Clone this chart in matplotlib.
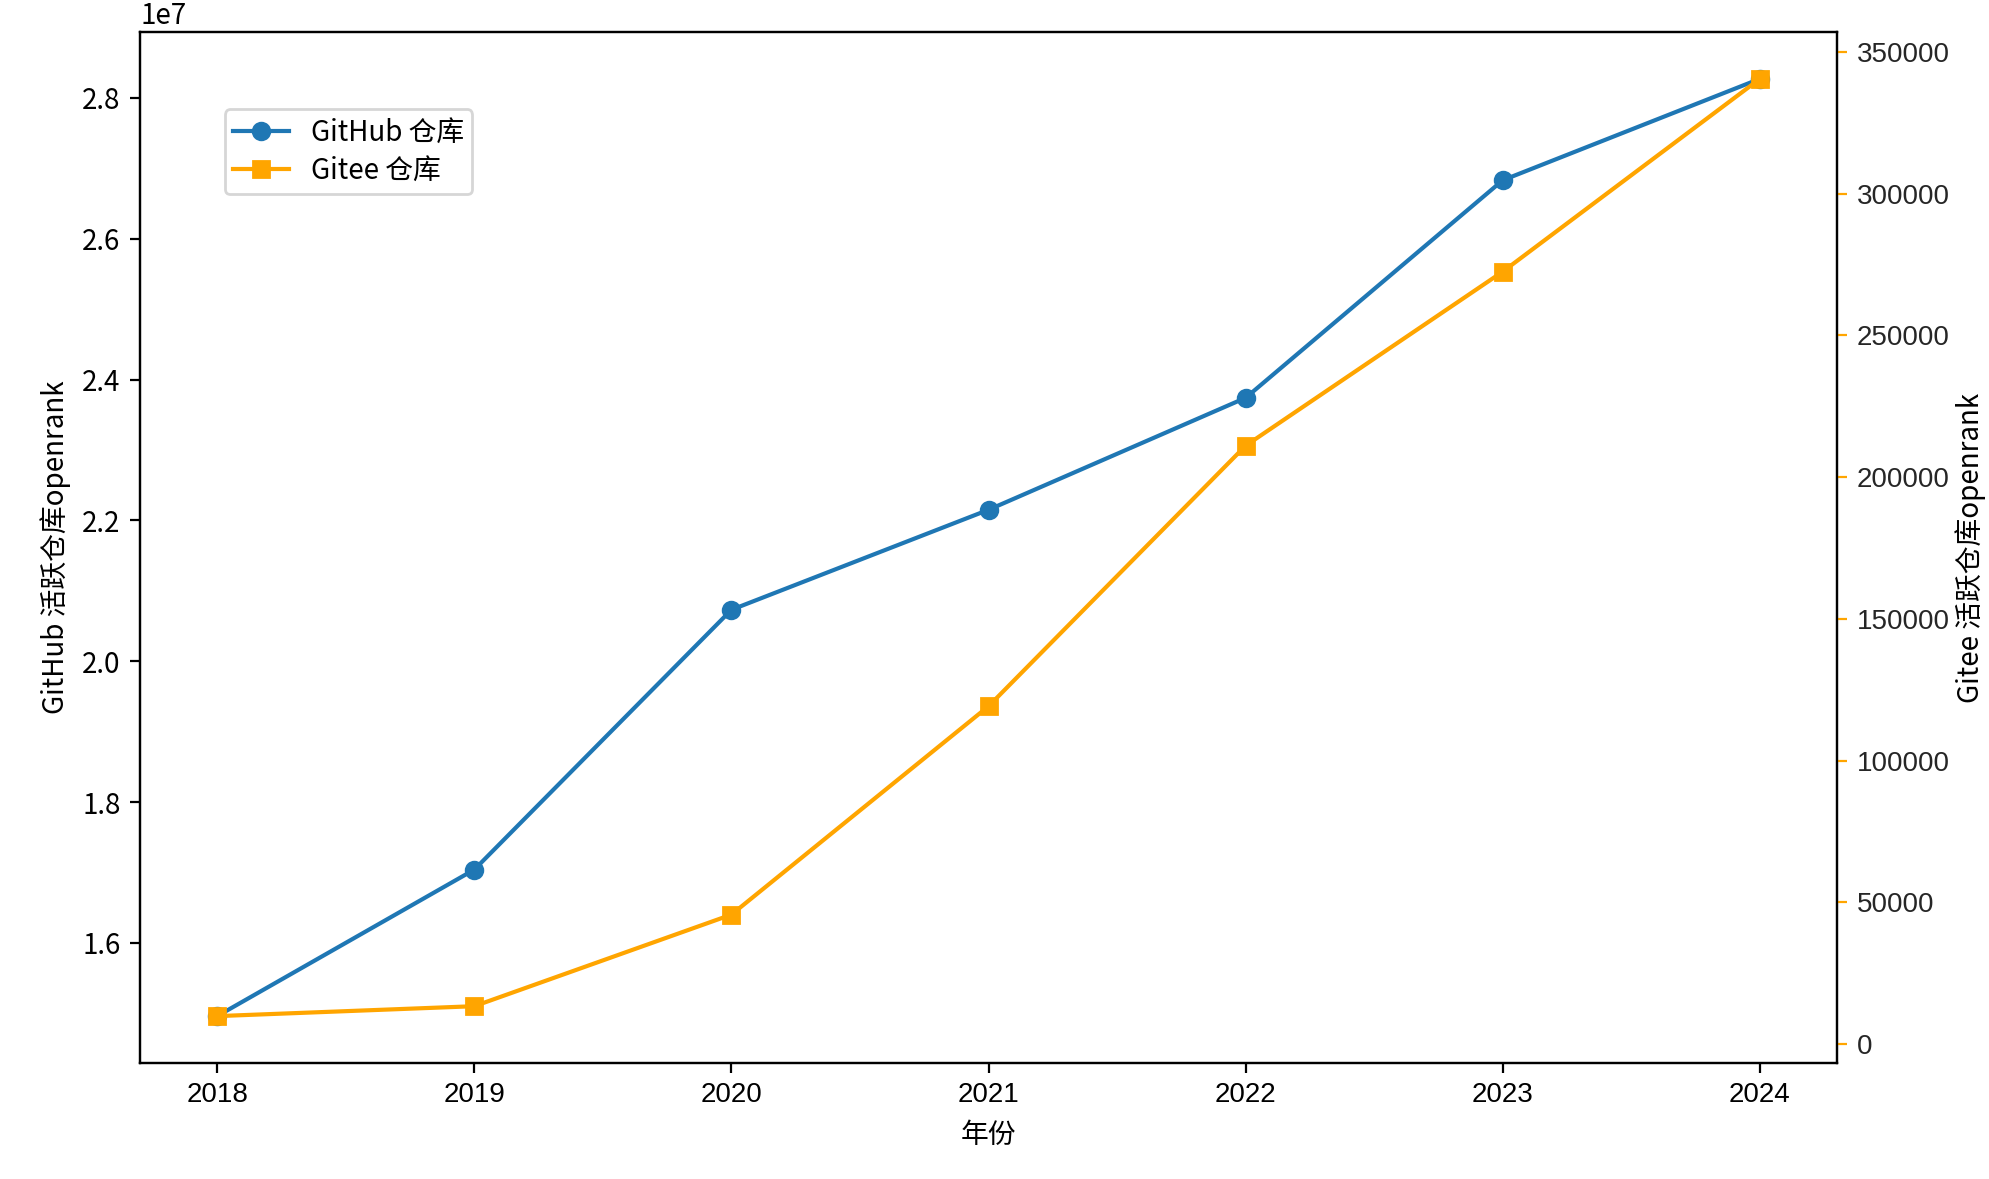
import matplotlib
matplotlib.use("Agg")
import matplotlib.pyplot as plt

plt.rcParams['font.family'] = ['Noto Sans CJK SC', 'DejaVu Sans']
plt.rcParams['axes.unicode_minus'] = False

years = [2018, 2019, 2020, 2021, 2022, 2023, 2024]
github_openrank = [14960000, 17040000, 20730000, 22150000, 23740000, 26830000, 28270000]
gitee_openrank = [9900, 13400, 45700, 119200, 211100, 272500, 340500]

fig = plt.figure(figsize=(19.89 / 2, 11.79 / 2), dpi=200)
ax = fig.add_axes([0.0704, 0.0984, 0.8532, 0.8745])

l1, = ax.plot(years, github_openrank, marker='o', color='#1f77b4', label='GitHub 仓库')
ax.set_xlabel('年份')
ax.set_ylabel('GitHub 活跃仓库openrank')

ax2 = ax.twinx()
l2, = ax2.plot(years, gitee_openrank, marker='s', color='orange', label='Gitee 仓库')
ax2.set_ylabel('Gitee 活跃仓库openrank', labelpad=2)
ax2.tick_params(axis='y', colors='orange', labelcolor='#262626')

for lab in ax.get_xticklabels() + ax2.get_yticklabels():
    lab.set_fontfamily(['Liberation Sans', 'DejaVu Sans'])

ax.legend(handles=[l1, l2], loc='upper left', bbox_to_anchor=(0.05, 0.925),
          borderaxespad=0, labelspacing=0.3, borderpad=0.3)

fig.savefig('out.png', dpi=200)
